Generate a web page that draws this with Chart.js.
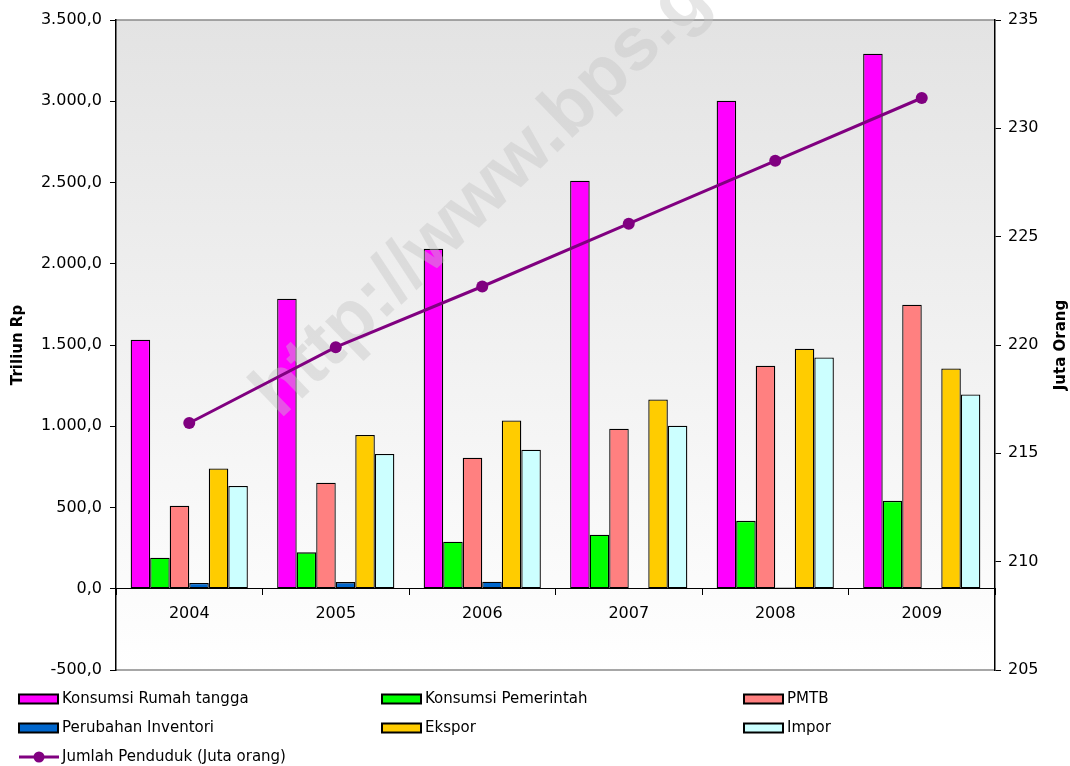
<!DOCTYPE html>
<html>
<head>
<meta charset="utf-8">
<script src="https://cdn.jsdelivr.net/npm/chart.js@4"></script>
<style>
  html, body { margin: 0; padding: 0; background: #fff; }
  #wrap { width: 1070px; height: 766px; position: relative; }
</style>
</head>
<body>
<div id="wrap"><canvas id="c" width="1070" height="766"></canvas></div>
<script>
const categories = ['2004', '2005', '2006', '2007', '2008', '2009'];
const konsumsiRumahTangga = [1532, 1785, 2092, 2511, 3003, 3292];
const konsumsiPemerintah = [191, 224, 289, 332, 418, 541];
const pmtb = [511, 652, 806, 985, 1372, 1748];
const perubahanInventori = [35, 41, 43, null, 8, -5];
const ekspor = [740, 946, 1036, 1165, 1477, 1356];
const impor = [632, 829, 855, 1003, 1423, 1196];
const jumlahPenduduk = [216.4, 219.9, 222.7, 225.6, 228.5, 231.4];
const leftTicks = { min: -500, max: 3500, step: 500 };
const rightTicks = { min: 205, max: 235, step: 5 };
const leftTitle = 'Triliun Rp';
const rightTitle = 'Juta Orang';
const watermark = 'http://www.bps.go.id';

const FONT = '"DejaVu Sans", "Liberation Sans", Arial, sans-serif';

function fmtID(v) {
  const neg = v < 0;
  const s = Math.abs(v).toFixed(1).split('.');
  const intPart = s[0].replace(/\B(?=(\d{3})+(?!\d))/g, '.');
  return (neg ? '-' : '') + intPart + ',' + s[1];
}

const barDefaults = { borderColor: '#000', borderWidth: 1.3, borderSkipped: false, yAxisID: 'y', order: 1,
  categoryPercentage: 0.8, barPercentage: 1.0 };

const bgPlugin = {
  id: 'bg',
  beforeDraw(chart) {
    const { ctx, chartArea: a } = chart;
    const g = ctx.createLinearGradient(0, a.top, 0, a.bottom);
    g.addColorStop(0, '#e3e3e3');
    g.addColorStop(1, '#ffffff');
    ctx.save();
    ctx.fillStyle = g;
    ctx.fillRect(a.left, a.top, a.right - a.left, a.bottom - a.top);
    ctx.strokeStyle = '#8a8a8a';
    ctx.lineWidth = 1.5;
    ctx.beginPath();
    ctx.moveTo(a.left, a.top); ctx.lineTo(a.right, a.top);
    ctx.moveTo(a.left, a.bottom); ctx.lineTo(a.right, a.bottom);
    ctx.stroke();
    ctx.restore();
  },
  beforeDatasetDraw(chart, args) {
    if (args.index !== 6) return;
    const { ctx } = chart;
    ctx.save();
    ctx.translate(280, 420);
    ctx.rotate(-44 * Math.PI / 180);
    ctx.font = 'bold 75px "Liberation Sans", Arial, sans-serif';
    ctx.fillStyle = 'rgba(195,195,195,0.42)';
    ctx.textBaseline = 'alphabetic';
    ctx.fillText(watermark, 0, 0);
    ctx.restore();
  },
  afterDraw(chart) {
    const { ctx } = chart;
    const ds = chart.data.datasets;
    const cols = [19, 382, 744];
    const rows = [699, 728, 757];
    ctx.save();
    ctx.save();
    ctx.translate(1061, (chart.chartArea.top + chart.chartArea.bottom) / 2);
    ctx.rotate(-Math.PI / 2);
    ctx.font = 'bold 15px ' + FONT;
    ctx.fillStyle = '#000';
    ctx.textAlign = 'center';
    ctx.textBaseline = 'middle';
    ctx.fillText(rightTitle, 0, 0);
    ctx.restore();

    ctx.font = '15px ' + FONT;
    ctx.textBaseline = 'middle';
    ctx.textAlign = 'left';
    ds.forEach((d, i) => {
      const x = cols[i % 3];
      const y = rows[Math.floor(i / 3)];
      if (d.type === 'line') {
        ctx.strokeStyle = d.borderColor;
        ctx.lineWidth = 3;
        ctx.beginPath();
        ctx.moveTo(x, y); ctx.lineTo(x + 40, y);
        ctx.stroke();
        ctx.fillStyle = d.borderColor;
        ctx.beginPath();
        ctx.arc(x + 20, y, 5.5, 0, Math.PI * 2);
        ctx.fill();
      } else {
        ctx.fillStyle = d.backgroundColor;
        ctx.fillRect(x, y - 4.5, 39, 9);
        ctx.strokeStyle = '#000';
        ctx.lineWidth = 2;
        ctx.strokeRect(x, y - 4.5, 39, 9);
      }
      ctx.fillStyle = '#000';
      ctx.fillText(d.label, x + 43, y);
    });
    ctx.restore();
  }
};

new Chart(document.getElementById('c'), {
  data: {
    labels: categories,
    datasets: [
      Object.assign({ type: 'bar', label: 'Konsumsi Rumah tangga', data: konsumsiRumahTangga, backgroundColor: '#FF00FF' }, barDefaults),
      Object.assign({ type: 'bar', label: 'Konsumsi Pemerintah', data: konsumsiPemerintah, backgroundColor: '#00FF00' }, barDefaults),
      Object.assign({ type: 'bar', label: 'PMTB', data: pmtb, backgroundColor: '#FF8080' }, barDefaults),
      Object.assign({ type: 'bar', label: 'Perubahan Inventori', data: perubahanInventori, backgroundColor: '#0066CC' }, barDefaults),
      Object.assign({ type: 'bar', label: 'Ekspor', data: ekspor, backgroundColor: '#FFCC00' }, barDefaults),
      Object.assign({ type: 'bar', label: 'Impor', data: impor, backgroundColor: '#CCFFFF' }, barDefaults),
      { type: 'line', label: 'Jumlah Penduduk (Juta orang)', data: jumlahPenduduk, yAxisID: 'y1', order: 0,
        borderColor: '#800080', backgroundColor: '#800080', borderWidth: 3, tension: 0,
        pointRadius: 6, pointHoverRadius: 6, pointBackgroundColor: '#800080', pointBorderColor: '#800080', pointBorderWidth: 0 }
    ]
  },
  options: {
    responsive: false,
    animation: false,
    layout: { padding: { top: 20, bottom: 96, left: 0, right: 0 } },
    plugins: { legend: { display: false }, tooltip: { enabled: false } },
    scales: {
      x: {
        position: { y: 0 },
        offset: true,
        grid: { display: true, offset: true, drawOnChartArea: false, drawTicks: true, tickLength: 6, color: '#000', lineWidth: 1 },
        border: { display: true, color: '#000', width: 1 },
        ticks: { color: '#000', font: { family: FONT, size: 16 }, padding: 9 }
      },
      y: {
        position: 'left',
        min: leftTicks.min, max: leftTicks.max,
        afterFit(s) { s.width = 116; },
        afterBuildTicks(s) {
          const t = [];
          for (let v = leftTicks.min; v <= leftTicks.max; v += leftTicks.step) t.push({ value: v });
          s.ticks = t;
        },
        grid: { drawOnChartArea: false, drawTicks: true, tickLength: 6, color: '#000' },
        border: { display: true, color: '#000', width: 1.5 },
        ticks: { color: '#000', font: { family: FONT, size: 16 }, padding: 8, callback: v => fmtID(v) },
        title: { display: true, text: leftTitle, color: '#000', font: { family: FONT, size: 15, weight: 'bold' }, padding: { top: 9, bottom: 0 } }
      },
      y1: {
        position: 'right',
        min: rightTicks.min, max: rightTicks.max,
        afterFit(s) { s.width = 75; },
        afterBuildTicks(s) {
          const t = [];
          for (let v = rightTicks.min; v <= rightTicks.max; v += rightTicks.step) t.push({ value: v });
          s.ticks = t;
        },
        grid: { drawOnChartArea: false, drawTicks: true, tickLength: 6, color: '#000' },
        border: { display: true, color: '#000', width: 1.5 },
        ticks: { color: '#000', font: { family: FONT, size: 16 }, padding: 7 },
        title: { display: false }
      }
    }
  },
  plugins: [bgPlugin]
});
</script>
</body>
</html>
